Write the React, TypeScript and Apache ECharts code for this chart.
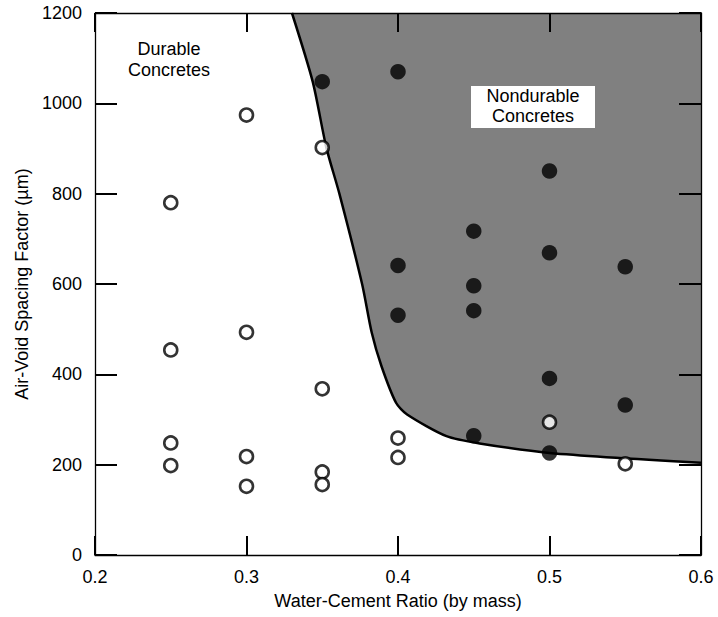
import React, { useEffect, useRef } from "react";
import * as echarts from "echarts";

const xTicks = [0.2, 0.3, 0.4, 0.5, 0.6];
const yTicks = [0, 200, 400, 600, 800, 1000, 1200];

const openX = [0.25, 0.25, 0.25, 0.25, 0.3, 0.3, 0.3, 0.3, 0.35, 0.35, 0.35, 0.35, 0.4, 0.4, 0.5, 0.55];
const openY = [780, 454, 248, 198, 974, 493, 218, 152, 902, 368, 184, 156, 259, 216, 294, 202];

const filledX = [0.35, 0.4, 0.4, 0.4, 0.45, 0.45, 0.45, 0.45, 0.5, 0.5, 0.5, 0.5, 0.55, 0.55];
const filledY = [1048, 1070, 641, 531, 717, 596, 541, 264, 850, 669, 391, 226, 638, 332];

const boundaryX = [0.33, 0.3437, 0.3527, 0.3613, 0.3763, 0.3826, 0.389, 0.3987, 0.406, 0.432, 0.4539, 0.5, 0.6];
const boundaryY = [1200, 1048, 902, 800, 600, 493, 419, 337, 311, 263, 247, 226, 204];

const xName = "Water-Cement Ratio (by mass)";
const yName = "Air-Void Spacing Factor (µm)";
const durableLabel = "Durable\nConcretes";
const nondurableLabel = "Nondurable\nConcretes";

const FONT = "Liberation Sans, Arial, sans-serif";
const FS = 18;

export default function App() {
  const ref = useRef<HTMLDivElement>(null);
  useEffect(() => {
    if (!ref.current) return;
    const chart = echarts.init(ref.current, null, { renderer: "svg" });
    const zip = (a: number[], b: number[]) => a.map((v, i) => [v, b[i]]);
    const axisLine = { show: true, onZero: false, lineStyle: { color: "#000", width: 1.3 } };
    const xBase = {
      type: "value" as const,
      min: xTicks[0],
      max: xTicks[xTicks.length - 1],
      interval: 0.1,
      splitLine: { show: false },
      axisLine,
      z: 10,
    };
    const yBase = {
      type: "value" as const,
      min: yTicks[0],
      max: yTicks[yTicks.length - 1],
      interval: 200,
      splitLine: { show: false },
      axisLine,
      z: 10,
    };
    chart.setOption({
      animation: false,
      backgroundColor: "#fff",
      textStyle: { fontFamily: FONT },
      grid: { left: 95, right: 17, top: 13, bottom: 62, containLabel: false },
      xAxis: [
        {
          ...xBase,
          position: "bottom",
          axisTick: { show: true, inside: true, length: 19, lineStyle: { color: "#000", width: 2 } },
          axisLabel: {
            show: true,
            margin: 13,
            color: "#000",
            fontSize: FS,
            fontFamily: FONT,
            formatter: (v: number) => v.toFixed(1),
          },
          name: xName,
          nameLocation: "middle",
          nameGap: 37,
          nameTextStyle: { color: "#000", fontSize: FS, fontFamily: FONT },
        },
        {
          ...xBase,
          position: "top",
          axisTick: { show: true, inside: true, length: 19, lineStyle: { color: "#000", width: 2 } },
          axisLabel: { show: false },
        },
      ],
      yAxis: [
        {
          ...yBase,
          position: "left",
          axisTick: { show: true, inside: true, length: 22, lineStyle: { color: "#000", width: 2 } },
          axisLabel: {
            show: true,
            margin: 13,
            color: "#000",
            fontSize: FS,
            fontFamily: FONT,
            formatter: (v: number) => String(v),
          },
          name: yName,
          nameLocation: "middle",
          nameGap: 64,
          nameTextStyle: { color: "#000", fontSize: FS, fontFamily: FONT },
        },
        {
          ...yBase,
          position: "right",
          axisTick: { show: true, inside: true, length: 22, lineStyle: { color: "#000", width: 2 } },
          axisLabel: { show: false },
        },
      ],
      series: [
        {
          type: "line",
          data: zip(boundaryX, boundaryY),
          symbol: "none",
          smooth: 0.25,
          lineStyle: { color: "#000", width: 2.5 },
          areaStyle: { color: "#808080", opacity: 1, origin: "end" },
          z: 2,
        },
        {
          type: "scatter",
          data: zip(openX, openY),
          symbol: "circle",
          symbolSize: 13,
          itemStyle: { color: "#fff", borderColor: "#000", borderWidth: 2.6 },
          z: 3,
        },
        {
          type: "scatter",
          data: zip(filledX, filledY),
          symbol: "circle",
          symbolSize: 15.5,
          itemStyle: { color: "#000" },
          z: 4,
        },
      ],
      graphic: [
        {
          type: "text",
          x: 169,
          y: 38,
          style: {
            text: durableLabel,
            fill: "#000",
            font: `${FS}px ${FONT}`,
            align: "center",
            lineHeight: 21,
          },
          z: 20,
        },
        {
          type: "rect",
          shape: { x: 471, y: 86, width: 124, height: 42 },
          style: { fill: "#fff" },
          z: 19,
        },
        {
          type: "text",
          x: 533,
          y: 86,
          style: {
            text: nondurableLabel,
            fill: "#000",
            font: `${FS}px ${FONT}`,
            align: "center",
            lineHeight: 20,
          },
          z: 20,
        },
      ],
    });
    return () => chart.dispose();
  }, []);
  return (
    <div
      ref={ref}
      style={{ position: "fixed", left: 0, top: 0, width: 718, height: 617 }}
    />
  );
}
